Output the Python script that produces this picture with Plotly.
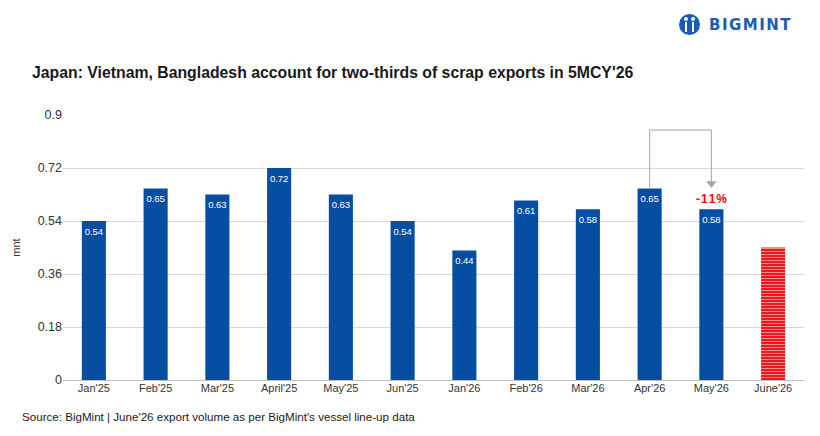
import plotly.graph_objects as go

categories = ["Jan'25", "Feb'25", "Mar'25", "April'25", "May'25", "Jun'25",
              "Jan'26", "Feb'26", "Mar'26", "Apr'26", "May'26", "June'26"]
values = [0.54, 0.65, 0.63, 0.72, 0.63, 0.54, 0.44, 0.61, 0.58, 0.65, 0.58, 0.45]
labels = ["0.54", "0.65", "0.63", "0.72", "0.63", "0.54", "0.44", "0.61", "0.58", "0.65", "0.58", ""]
yticks = [0, 0.18, 0.36, 0.54, 0.72, 0.9]
ytick_text = ["0", "0.18", "0.36", "0.54", "0.72", "0.9"]
change_label = "-11%"

BLUE = "#054EA2"
FONT = "Liberation Sans, Arial, sans-serif"

W, H = 820, 436
L, R, T, B = 63, 16, 115, 56
pw, ph = W - L - R, H - T - B
Y_MAX = 0.9
label_drop = 11.5 * Y_MAX / ph  # ~11.5 px below bar top


def px_x(x):
    return (x - L) / pw


def px_y(y):
    return (H - B - y) / ph


fig = go.Figure()

# actual bars
fig.add_trace(go.Bar(
    x=categories[:-1], y=values[:-1],
    marker=dict(color=BLUE, line=dict(width=0)),
    hoverinfo="skip", showlegend=False,
))
# estimated bar (striped)
fig.add_trace(go.Bar(
    x=categories[-1:], y=values[-1:],
    marker=dict(color="#E8191C", line=dict(width=0),
                pattern=dict(shape="-", fgcolor="white", bgcolor="#E8191C",
                             size=3, solidity=0.34, fillmode="overlay")),
    hoverinfo="skip", showlegend=False,
))
# value labels inside bars
fig.add_trace(go.Scatter(
    x=categories[:-1], y=[v - label_drop for v in values[:-1]], text=labels[:-1],
    mode="text", textposition="middle center",
    textfont=dict(color="white", size=9.5, family=FONT),
    hoverinfo="skip", showlegend=False,
))

# bracket connector Apr'26 -> May'26
i_apr = categories.index("Apr'26")
i_may = categories.index("May'26")
y_top = 0.849
lc = dict(color="#A6A6A6", width=1)
fig.add_shape(type="line", xref="x", yref="y", x0=i_apr, x1=i_apr, y0=values[i_apr], y1=y_top, line=lc)
fig.add_shape(type="line", xref="x", yref="y", x0=i_apr, x1=i_may, y0=y_top, y1=y_top, line=lc)
fig.add_shape(type="line", xref="x", yref="y", x0=i_may, x1=i_may, y0=y_top, y1=0.672, line=lc)
fig.add_trace(go.Scatter(
    x=[categories[i_may]], y=[0.667], mode="markers",
    marker=dict(symbol="triangle-down", size=9, color="#A6A6A6"),
    hoverinfo="skip", showlegend=False,
))
fig.add_annotation(x=categories[i_may], y=0.615, text="<b>-\u200a1\u200a1\u200a%</b>",
                   showarrow=False, font=dict(color="#FF0000", size=12, family=FONT),
                   xref="x", yref="y")

fig.add_annotation(
    xref="paper", yref="paper", x=px_x(30), y=px_y(72), xanchor="left", yanchor="middle",
    text="<b>Japan: Vietnam, Bangladesh account for two-thirds of scrap exports in 5MCY'26</b>",
    showarrow=False, font=dict(size=15.8, color="#1a1a1a", family=FONT))

fig.add_annotation(
    xref="paper", yref="paper", x=px_x(20), y=px_y(416), xanchor="left", yanchor="middle",
    text="Source: BigMint | June'26 export volume as per BigMint's vessel line-up data",
    showarrow=False, font=dict(size=11.6, color="#1a1a1a", family=FONT))

# logo
fig.add_annotation(
    xref="paper", yref="paper", x=px_x(707), y=px_y(25), xanchor="left", yanchor="middle",
    text="<b>B\u200aI\u200aG\u200aM\u200aI\u200aN\u200aT</b>",
    showarrow=False, font=dict(size=15, color="#1B5BB8", family="DejaVu Sans, sans-serif"))
fig.add_shape(type="circle", xref="paper", yref="paper",
              x0=px_x(679), x1=px_x(700), y0=px_y(35), y1=px_y(14),
              fillcolor="#1B5BB8", line=dict(width=0))
for xc in (686, 693):
    fig.add_shape(type="line", xref="paper", yref="paper",
                  x0=px_x(xc), x1=px_x(xc), y0=px_y(22), y1=px_y(32),
                  line=dict(color="white", width=2))
for xc in (686, 693):
    fig.add_shape(type="circle", xref="paper", yref="paper",
                  x0=px_x(xc - 2), x1=px_x(xc + 2), y0=px_y(21), y1=px_y(17),
                  fillcolor="white", line=dict(width=0))

fig.update_layout(
    width=W, height=H,
    margin=dict(l=L, r=R, t=T, b=B, pad=0),
    paper_bgcolor="white", plot_bgcolor="white",
    bargap=0.61, barmode="overlay",
    font=dict(family=FONT, color="#333333"),
    xaxis=dict(type="category", categoryorder="array", categoryarray=categories,
               tickfont=dict(size=11, color="#333333"), showgrid=False,
               showline=False, ticks="", range=[-0.5, len(categories) - 0.5]),
    yaxis=dict(range=[0, Y_MAX], tickvals=yticks, ticktext=ytick_text,
               tickfont=dict(size=12.5, color="#333333"), showgrid=True,
               gridcolor="#D9D9D9", gridwidth=1, zeroline=True, zerolinecolor="#BFBFBF",
               zerolinewidth=1, ticks="", ticklen=0, showline=False,
               title=dict(text="mnt", font=dict(size=11, color="#333333"), standoff=14)),
)

fig.write_html("out.html")
